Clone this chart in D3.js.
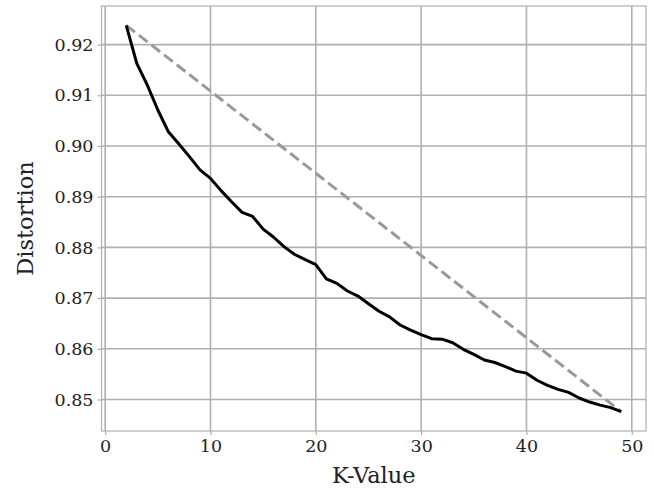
<!DOCTYPE html>
<html>
<head>
<meta charset="utf-8">
<script src="https://cdn.jsdelivr.net/npm/d3@7"></script>
<style>
  html, body { margin: 0; padding: 0; background: #fff; }
  svg { display: block; }
  text { font-family: "DejaVu Serif", serif; fill: #222; }
</style>
</head>
<body>
<svg id="chart" width="654" height="489"></svg>
<script>
const kValues = [2,3,4,5,6,7,8,9,10,11,12,13,14,15,16,17,18,19,20,21,22,23,24,25,26,27,28,29,30,31,32,33,34,35,36,37,38,39,40,41,42,43,44,45,46,47,48,49];
const distortion = [0.9238,0.9163,0.9120,0.9071,0.9028,0.9004,0.8979,0.8953,0.8936,0.8912,0.8890,0.8869,0.8861,0.8836,0.8820,0.8801,0.8786,0.8776,0.8766,0.8738,0.8729,0.8714,0.8704,0.8689,0.8674,0.8663,0.8647,0.8637,0.8628,0.8620,0.8619,0.8612,0.8599,0.8589,0.8578,0.8573,0.8565,0.8556,0.8552,0.8538,0.8528,0.8520,0.8514,0.8503,0.8495,0.8489,0.8484,0.8476];
const xTicks = [0,10,20,30,40,50];
const yTicks = [0.85,0.86,0.87,0.88,0.89,0.90,0.91,0.92];

const svg = d3.select("#chart");
const L = 101.5, R = 646, T = 6, B = 431;

const xMin = d3.min(kValues), xMax = d3.max(kValues);
const xPad = (xMax - xMin) * 0.05;
const yMin = d3.min(distortion), yMax = d3.max(distortion);
const yPad = (yMax - yMin) * 0.05;

const x = d3.scaleLinear().domain([xMin - xPad, xMax + xPad]).range([L, R]);
const y = d3.scaleLinear().domain([yMin - yPad, yMax + yPad]).range([B, T]);

const gridColor = "#b0b0b0";

// grid
svg.append("g").selectAll("line").data(xTicks).join("line")
  .attr("x1", d => x(d)).attr("x2", d => x(d)).attr("y1", T).attr("y2", B)
  .attr("stroke", gridColor).attr("stroke-width", 1.6);
svg.append("g").selectAll("line").data(yTicks).join("line")
  .attr("x1", L).attr("x2", R).attr("y1", d => y(d)).attr("y2", d => y(d))
  .attr("stroke", gridColor).attr("stroke-width", 1.6);

// frame
svg.append("rect").attr("x", L).attr("y", T).attr("width", R - L).attr("height", B - T)
  .attr("fill", "none").attr("stroke", gridColor).attr("stroke-width", 1.2);

// axes
const xAxis = svg.append("g").attr("transform", `translate(0,${B})`)
  .call(d3.axisBottom(x).tickValues(xTicks).tickFormat(d3.format("d")).tickSize(4).tickPadding(5));
const yAxis = svg.append("g").attr("transform", `translate(${L},0)`)
  .call(d3.axisLeft(y).tickValues(yTicks).tickFormat(d3.format(".2f")).tickSize(4).tickPadding(4));
[xAxis, yAxis].forEach(g => {
  g.select(".domain").remove();
  g.selectAll(".tick line").attr("stroke", gridColor).attr("stroke-width", 1.2);
  g.selectAll(".tick text").attr("font-family", "DejaVu Serif").attr("font-size", 17.5).attr("fill", "#222");
});

// dashed reference line from first to last point
const ends = [0, kValues.length - 1];
svg.append("path")
  .datum(ends)
  .attr("fill", "none").attr("stroke", "#999999").attr("stroke-width", 3)
  .attr("stroke-dasharray", "11,5")
  .attr("d", d3.line().x(i => x(kValues[i])).y(i => y(distortion[i])));

// distortion curve
svg.append("path")
  .datum(kValues.map((k, i) => [k, distortion[i]]))
  .attr("fill", "none").attr("stroke", "#000").attr("stroke-width", 3)
  .attr("stroke-linejoin", "round")
  .attr("d", d3.line().x(d => x(d[0])).y(d => y(d[1])));

// axis labels
svg.append("text").attr("x", (L + R) / 2).attr("y", 483)
  .attr("text-anchor", "middle").attr("font-size", 22.5).text("K-Value");
svg.append("text").attr("transform", `translate(33,${(T + B) / 2}) rotate(-90)`)
  .attr("text-anchor", "middle").attr("font-size", 22.5).text("Distortion");
</script>
</body>
</html>
